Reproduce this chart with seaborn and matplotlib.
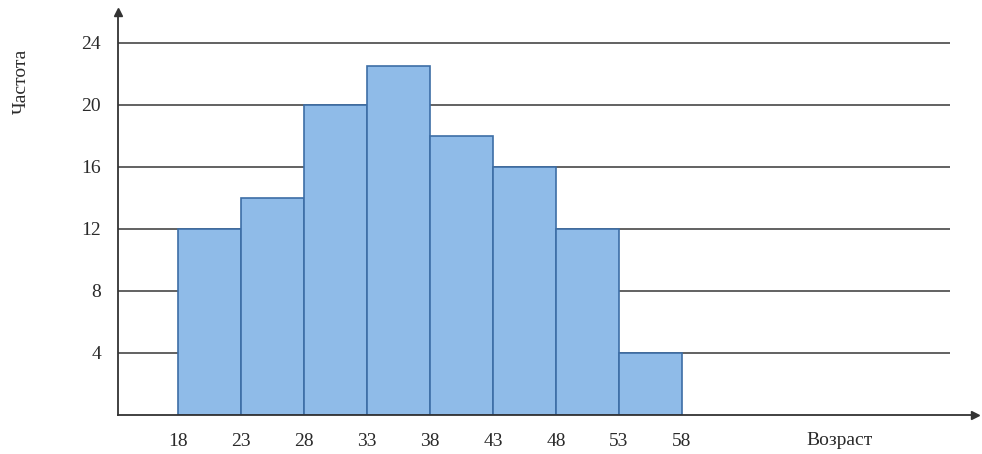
import numpy as np
import pandas as pd
import matplotlib
matplotlib.use('Agg')
import matplotlib.pyplot as plt
import seaborn as sns

# age groups (left bin edges) and frequencies
bin_edges = [18, 23, 28, 33, 38, 43, 48, 53, 58]
counts = [12, 14, 20, 22.5, 18, 16, 12, 4]
y_ticks = [4, 8, 12, 16, 20, 24]

df = pd.DataFrame({'age': [(a + b) / 2 for a, b in zip(bin_edges[:-1], bin_edges[1:])],
                   'freq': counts})

sns.set_style('white')
plt.rcParams['font.family'] = ['Liberation Serif', 'DejaVu Serif']

fig = plt.figure(figsize=(9.82, 4.54), dpi=100)
ax = fig.add_axes([0.120, 0.086, 0.873, 0.888])

# grid lines behind bars
ax.hlines(y_ticks, 13.2, 79.3, color='#555555', lw=1.3, zorder=0)

sns.histplot(data=df, x='age', weights='freq', bins=bin_edges, ax=ax,
             color='#8fbbe8', edgecolor='#3d6ea6', linewidth=1.2, alpha=1, zorder=2)

ax.set_xlim(13.2, 81.3)
ax.set_ylim(0, 26)
ax.set_xticks(bin_edges)
ax.set_yticks(y_ticks)
ax.tick_params(axis='x', length=0, pad=13, labelsize=14, colors='#2a2a2a')
ax.tick_params(axis='y', length=8, width=1, direction='out', pad=4, labelsize=14,
               colors='#2a2a2a')
ax.set_xlabel('')
ax.set_ylabel('')

for s in ['top', 'right']:
    ax.spines[s].set_visible(False)
for s in ['left', 'bottom']:
    ax.spines[s].set_color('#333333')
    ax.spines[s].set_linewidth(1.3)

# arrowheads at the ends of the axes
ax.plot(1, 0, '>', color='#333333', ms=6, transform=ax.transAxes, clip_on=False)
ax.plot(0, 1, '^', color='#333333', ms=6, transform=ax.transAxes, clip_on=False)

fig.text(0.022, 0.82, 'Частота', rotation=90, ha='center', va='center',
         fontsize=14, color='#2a2a2a')
fig.text(0.855, 0.03, 'Возраст', ha='center', va='center',
         fontsize=14, color='#2a2a2a')

fig.savefig('out.png', dpi=100)
